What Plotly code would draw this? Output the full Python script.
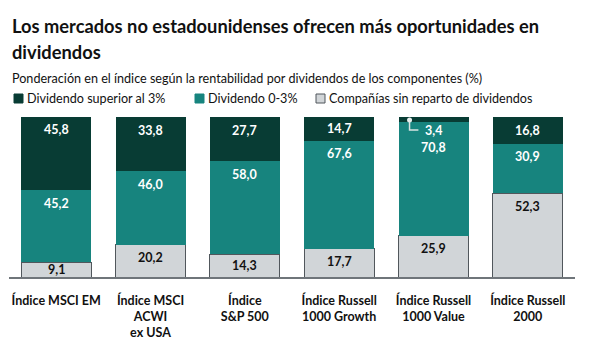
import plotly.graph_objects as go

categories = ["Índice MSCI EM", "Índice MSCI<br>ACWI<br>ex USA", "Índice<br>S&P 500",
              "Índice Russell<br>1000 Growth", "Índice Russell<br>1000 Value", "Índice Russell<br>2000"]
high_yield = [45.8, 33.8, 27.7, 14.7, 3.4, 16.8]      # Dividendo superior al 3%
low_yield = [45.2, 46.0, 58.0, 67.6, 70.8, 30.9]      # Dividendo 0-3%
no_dividend = [9.1, 20.2, 14.3, 17.7, 25.9, 52.3]     # Compañías sin reparto de dividendos
series_names = ["Dividendo superior al 3%", "Dividendo 0-3%", "Compañías sin reparto de dividendos"]

DARK = "#083c34"
TEAL = "#17847e"
GRAY = "#d1d5d8"
OUTLINE = "#51575c"
FONT = "Lato"

# The page body adds an 8px margin; draw the figure 8px smaller and shift everything.
OFF = 8
W, H = 607 - OFF, 357 - OFF
ML, MR, MT, MB = 1, 32, 117 - OFF, 80
PW, PH = W - ML - MR, H - MT - MB
UNIT = PH / 100.0  # pixels per percentage point


def px_x(px):
    return (px - OFF - ML) / PW


def px_y(py):
    return (H - MB - (py - OFF)) / PH


def fmt(v):
    return f"{v:.1f}".replace(".", ",")


x_idx = list(range(len(categories)))

fig = go.Figure()
fig.add_trace(go.Bar(x=x_idx, y=no_dividend, name=series_names[2],
                     marker=dict(color=GRAY, line=dict(color=OUTLINE, width=1)), showlegend=False))
fig.add_trace(go.Bar(x=x_idx, y=low_yield, name=series_names[1],
                     marker=dict(color=TEAL, line=dict(width=0)), showlegend=False))
fig.add_trace(go.Bar(x=x_idx, y=high_yield, name=series_names[0],
                     marker=dict(color=DARK, line=dict(width=0)), showlegend=False))

annotations = []
shapes = []

LABEL_SIZE = 12.5
# Data labels: placed near the top of each segment
for i in x_idx:
    base = 0.0
    for vals, color in ((no_dividend, "#111111"), (low_yield, "white"), (high_yield, "white")):
        v = vals[i]
        top = base + v
        if i == 4 and vals is high_yield:
            base = top
            continue
        if v * UNIT < 24:
            yc = base + v / 2
        elif i == 4 and vals is low_yield:
            yc = top - 25 / UNIT
        else:
            yc = top - 13 / UNIT
        annotations.append(dict(text=fmt(v), x=i, y=yc, xref="x", yref="y",
                                xanchor="center", yanchor="middle", showarrow=False,
                                font=dict(family=FONT, size=LABEL_SIZE, color=color, weight="bold")))
        base = top

# Leader-line label for the thin top segment of Russell 1000 Value
top_val = no_dividend[4] + low_yield[4] + high_yield[4]
dot_y = top_val - high_yield[4] / 2 - 0.3
elbow_y = dot_y - 6.2
annotations.append(dict(text=fmt(high_yield[4]), x=4, y=elbow_y - 0.5, xref="x", yref="y",
                        xanchor="center", yanchor="middle", showarrow=False,
                        font=dict(family=FONT, size=LABEL_SIZE, color="white", weight="bold")))
shapes.append(dict(type="path", xref="x", yref="y",
                   path=f"M {4 - 0.254} {dot_y} L {4 - 0.254} {elbow_y} L {4 - 0.16} {elbow_y}",
                   line=dict(color="#d9e3e2", width=1.5)))
shapes.append(dict(type="circle", xref="x", yref="y", xsizemode="pixel", ysizemode="pixel",
                   xanchor=4 - 0.254, yanchor=dot_y, x0=-2.5, x1=2.5, y0=-2.5, y1=2.5,
                   fillcolor="#e8eeee", line=dict(width=0)))

# Title, subtitle
TITLE_FONT = dict(family=FONT, size=18.3, color="#111111", weight="bold")
annotations.append(dict(text="Los mercados no estadounidenses ofrecen más oportunidades en",
                        xref="paper", yref="paper", x=px_x(10), y=px_y(26), xanchor="left", yanchor="middle",
                        showarrow=False, font=TITLE_FONT))
annotations.append(dict(text="dividendos",
                        xref="paper", yref="paper", x=px_x(10), y=px_y(51.5), xanchor="left", yanchor="middle",
                        showarrow=False, font=TITLE_FONT))
annotations.append(dict(text="Ponderación en el índice según la rentabilidad por dividendos de los componentes (%)",
                        xref="paper", yref="paper", x=px_x(10), y=px_y(78), xanchor="left", yanchor="middle",
                        showarrow=False, font=dict(family=FONT, size=12.6, color="#111111")))

# Legend
legend_items = [(14, DARK, DARK), (195, TEAL, TEAL), (316, GRAY, OUTLINE)]
for (lx, fill, line), name in zip(legend_items, series_names):
    shapes.append(dict(type="rect", xref="paper", yref="paper",
                       x0=px_x(lx), x1=px_x(lx + 9), y0=px_y(103), y1=px_y(94),
                       fillcolor=fill, line=dict(color=line, width=1)))
    annotations.append(dict(text=name, xref="paper", yref="paper", x=px_x(lx + 11), y=px_y(98.7),
                            xanchor="left", yanchor="middle", showarrow=False,
                            font=dict(family=FONT, size=12.6, color="#111111")))

fig.update_layout(
    width=W, height=H, barmode="stack", bargap=0.258,
    margin=dict(l=ML, r=MR, t=MT, b=MB, pad=0),
    plot_bgcolor="white", paper_bgcolor="white",
    annotations=annotations, shapes=shapes,
    xaxis=dict(tickmode="array", tickvals=x_idx, ticktext=categories, range=[-0.5, 5.5],
               showline=True, linecolor="#6f757a", linewidth=1.5, ticks="", showgrid=False,
               tickfont=dict(family=FONT, size=12.5, color="#111111", weight="bold"),
               ticklabelstandoff=11, zeroline=False),
    yaxis=dict(range=[0, 100], visible=False, showgrid=False, zeroline=False),
)

fig.write_html("out.html")
